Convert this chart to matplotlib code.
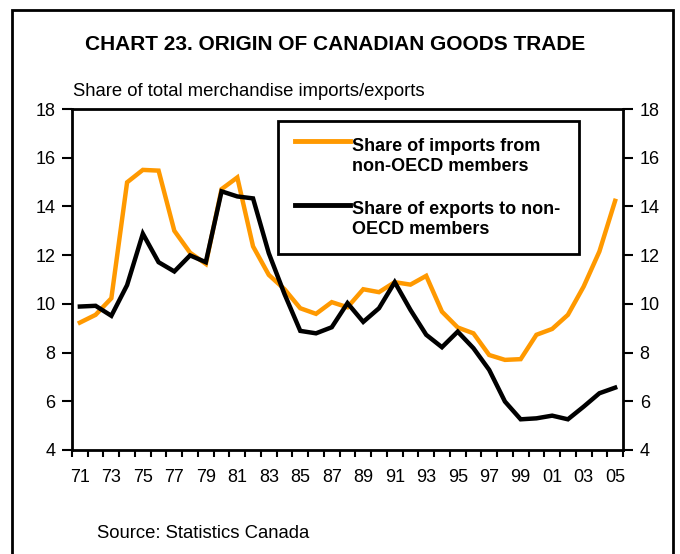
import matplotlib
matplotlib.use("Agg")
import matplotlib.pyplot as plt
from matplotlib.patches import Rectangle
from matplotlib.lines import Line2D

plt.rcParams["font.family"] = ["Liberation Sans", "DejaVu Sans"]

# data (years 1971-2005)
years = list(range(1971, 2006))
imports_share = [9.23, 9.55, 10.23, 14.99, 15.50, 15.47, 13.00, 12.10, 11.64, 14.71,
                 15.19, 12.36, 11.19, 10.60, 9.82, 9.59, 10.07, 9.86, 10.60, 10.48,
                 10.89, 10.79, 11.15, 9.68, 9.03, 8.79, 7.90, 7.70, 7.73, 8.73,
                 8.97, 9.55, 10.71, 12.15, 14.23]
exports_share = [9.89, 9.92, 9.51, 10.77, 12.88, 11.71, 11.33, 11.99, 11.71, 14.62,
                 14.41, 14.33, 12.08, 10.40, 8.89, 8.79, 9.04, 10.03, 9.26, 9.82,
                 10.89, 9.75, 8.73, 8.22, 8.86, 8.18, 7.29, 5.99, 5.26, 5.30,
                 5.41, 5.26, 5.78, 6.33, 6.56]
year_labels = [f"{y % 100:02d}" for y in years]
series_names = ["Share of imports from\nnon-OECD members",
                "Share of exports to non-\nOECD members"]

ORANGE = "#FF9900"
colors = [ORANGE, "black"]

fig = plt.figure(figsize=(6.8, 5.54), dpi=100)
ax = fig.add_axes([72/680, 1 - 450/554, 551/680, 341/554])

x = list(range(len(years)))
for vals, c in zip([imports_share, exports_share], colors):
    ax.plot(x, vals, color=c, lw=3.2, solid_joinstyle="miter")

ax.set_xlim(-0.5, len(years) - 0.5)
ax.set_ylim(4, 18)

# tick marks on category boundaries, labels every other year
ax.set_xticks([i - 0.5 for i in range(len(years) + 1)])
ax.set_xticklabels([])
ax.set_xticks(x[::2], minor=True)
ax.set_xticklabels(year_labels[::2], minor=True, fontsize=13)
ax.tick_params(axis="x", which="major", direction="out", length=5, width=1.5)
ax.tick_params(axis="x", which="minor", length=0, pad=14)

ax.set_yticks(range(4, 19, 2))
ax.tick_params(axis="y", direction="out", length=7, width=1.5, labelsize=13,
               left=True, right=True, labelleft=True, labelright=True, pad=5)

for s in ax.spines.values():
    s.set_linewidth(2)

# legend box drawn by hand so the key line sits on the first text line
ax.add_patch(Rectangle((0.374, 0.575), 0.546, 0.39, transform=ax.transAxes,
                       fill=False, edgecolor="black", linewidth=2, zorder=5))
key_y = [0.907, 0.718]      # key line height (first text line)
last_base = [0.818, 0.633]  # baseline of the second text line
for name, c, ky, yb in zip(series_names, colors, key_y, last_base):
    ax.add_line(Line2D([0.405, 0.5045], [ky, ky], color=c, lw=3.5,
                       transform=ax.transAxes, zorder=6))
    ax.text(0.508, yb, name, transform=ax.transAxes, ha="left",
            va="baseline", fontsize=13, fontweight="bold", linespacing=1.25)

fig.text(335/680, 1 - 45/554, "CHART 23. ORIGIN OF CANADIAN GOODS TRADE",
         ha="center", va="center", fontsize=15, fontweight="bold")
fig.text(73/680, 1 - 91/554, "Share of total merchandise imports/exports",
         ha="left", va="center", fontsize=13.3)
fig.text(97/680, 1 - 533/554, "Source: Statistics Canada",
         ha="left", va="center", fontsize=13.3)

fig.patches.append(Rectangle((12/680, -0.1), 661/680, 1.1 - 10/554,
                             transform=fig.transFigure, fill=False,
                             edgecolor="black", linewidth=2, clip_on=False))

fig.savefig("out.png", dpi=100)
